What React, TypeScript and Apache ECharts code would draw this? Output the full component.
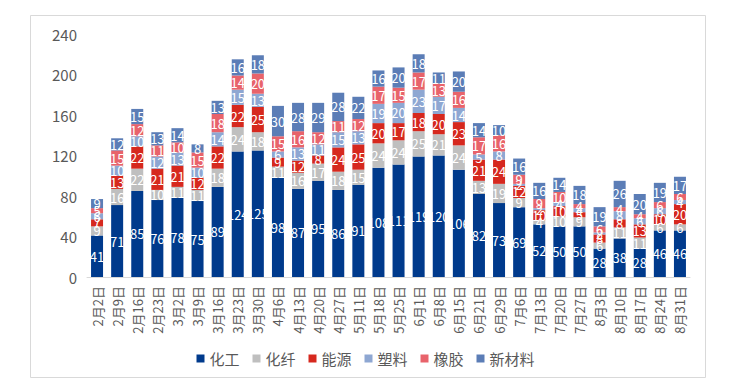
import React, { useEffect, useRef } from "react";
import * as echarts from "echarts";

const categories = ["2月2日","2月9日","2月16日","2月23日","3月2日","3月9日","3月16日","3月23日","3月30日","4月6日","4月13日","4月20日","4月27日","5月11日","5月18日","5月25日","6月1日","6月8日","6月15日","6月21日","6月29日","7月6日","7月13日","7月20日","7月27日","8月3日","8月10日","8月17日","8月24日","8月31日"];

const huagong = [41,71,85,76,78,75,89,124,125,98,87,95,86,91,108,111,119,120,106,82,73,69,52,50,50,28,38,28,46,46];
const huaxian = [9,16,22,10,11,11,18,24,18,11,16,17,18,15,24,24,25,21,24,13,19,9,4,10,9,6,11,11,6,6];
const nengyuan = [7,13,22,21,21,12,22,22,25,9,12,8,24,25,20,17,18,20,23,21,24,12,10,10,5,8,8,13,10,20];
const suliao = [6,10,10,12,13,10,14,15,13,6,13,11,15,13,19,20,23,17,14,5,8,2,2,4,4,2,8,6,6,4];
const xiangjiao = [5,15,12,11,10,15,18,14,20,15,16,12,11,12,17,15,17,13,16,17,16,9,9,10,4,6,4,4,6,6];
const xincailiao = [9,12,15,13,14,8,13,16,18,30,28,29,28,22,16,20,18,11,20,14,10,16,16,14,18,19,26,20,19,17];

const seriesNames = ["化工", "化纤", "能源", "塑料", "橡胶", "新材料"];
const seriesData = [huagong, huaxian, nengyuan, suliao, xiangjiao, xincailiao];
const colors = ["#003A8C", "#BFBFBF", "#D6281E", "#8EA7D2", "#E8636B", "#5B7DB6"];

const FONT = "'Noto Sans CJK SC', 'Microsoft YaHei', sans-serif";

export default function App() {
  const ref = useRef<HTMLDivElement>(null);
  useEffect(() => {
    if (!ref.current) return;
    const chart = echarts.init(ref.current, undefined, { renderer: "svg" });
    chart.setOption({
      animation: false,
      backgroundColor: "#ffffff",
      color: colors,
      textStyle: { fontFamily: FONT },
      graphic: [
        {
          type: "rect",
          shape: { x: 30.5, y: 15.5, width: 675, height: 362 },
          style: { fill: "none", stroke: "#D9D9D9", lineWidth: 1 },
          silent: true,
        },
      ],
      legend: {
        data: seriesNames,
        left: "center",
        top: 346,
        itemWidth: 8,
        itemHeight: 8,
        itemGap: 13,
        icon: "rect",
        textStyle: { fontSize: 15, color: "#595959", fontFamily: FONT },
      },
      grid: { left: 87, right: 41, top: 34, bottom: 113, containLabel: false },
      xAxis: {
        type: "category",
        data: categories,
        axisLine: { lineStyle: { color: "#D9D9D9" } },
        axisTick: { show: false },
        axisLabel: {
          rotate: 90,
          interval: 0,
          margin: 9,
          fontSize: 13,
          color: "#595959",
          fontFamily: FONT,
        },
      },
      yAxis: {
        type: "value",
        min: 0,
        max: 240,
        interval: 40,
        axisLine: { show: false },
        axisTick: { show: false },
        splitLine: { show: false },
        axisLabel: { fontSize: 15, color: "#595959", margin: 10, fontFamily: FONT },
      },
      series: seriesNames.map((name, i) => ({
        name,
        type: "bar",
        stack: "total",
        barWidth: 12,
        data: seriesData[i],
        itemStyle: { color: colors[i] },
        label: {
          show: true,
          position: "inside",
          color: "#ffffff",
          fontSize: 13,
          fontFamily: FONT,
        },
      })),
    });
    return () => chart.dispose();
  }, []);
  return (
    <div
      ref={ref}
      style={{ position: "fixed", left: 0, top: 0, width: 731, height: 390 }}
    />
  );
}
